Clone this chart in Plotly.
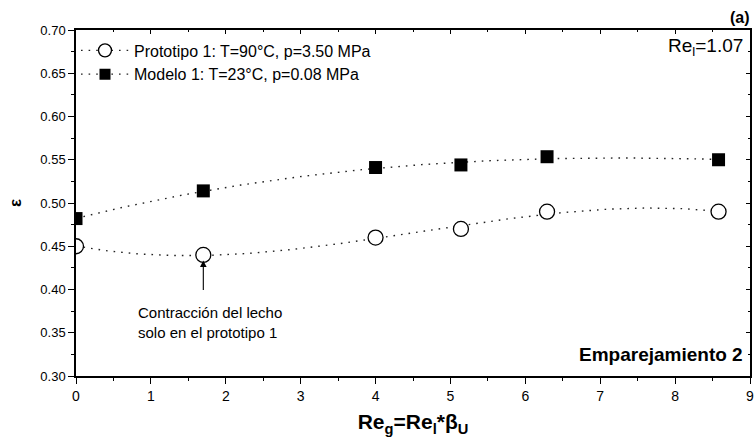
import numpy as np
import plotly.graph_objects as go

# Measured points
re_g = [0.0, 1.70, 4.00, 5.14, 6.29, 8.58]
eps_prototipo = [0.450, 0.440, 0.460, 0.470, 0.490, 0.490]
eps_modelo = [0.482, 0.514, 0.541, 0.544, 0.5535, 0.550]

name_prototipo = "Prototipo 1: T=90°C, p=3.50 MPa"
name_modelo = "Modelo 1: T=23°C, p=0.08 MPa"

x_ticks = [0, 1, 2, 3, 4, 5, 6, 7, 8, 9]
y_ticks = [0.30, 0.35, 0.40, 0.45, 0.50, 0.55, 0.60, 0.65, 0.70]

FONT = "Liberation Sans, Arial, sans-serif"
INK = "#000000"
DOT = "1.6px,6px"
DOT_LINE = dict(color="#222222", width=1.4, dash=DOT)

# Polynomial trend lines fitted to each series
xf = np.linspace(min(re_g), max(re_g), 200)
fit_p = np.polyval(np.polyfit(re_g, eps_prototipo, 3), xf)
fit_m = np.polyval(np.polyfit(re_g, eps_modelo, 3), xf)

circle_marker = dict(symbol="circle", size=15, color="white", line=dict(color=INK, width=1.3))
square_marker = dict(symbol="square", size=13, color=INK, line=dict(color=INK, width=0))

fig = go.Figure()

for fy in (fit_p, fit_m):
    fig.add_trace(go.Scatter(x=xf, y=fy, mode="lines", showlegend=False,
                             line=DOT_LINE, hoverinfo="skip"))

fig.add_trace(go.Scatter(x=re_g, y=eps_prototipo, mode="markers", name=name_prototipo,
                         marker=circle_marker, showlegend=False))
fig.add_trace(go.Scatter(x=re_g, y=eps_modelo, mode="markers", name=name_modelo,
                         marker=square_marker, showlegend=False))

# Legend entries: dotted line sample through the marker
fig.add_trace(go.Scatter(x=[None], y=[None], mode="lines+markers", name=name_prototipo,
                         marker=dict(circle_marker, size=13), line=DOT_LINE))
fig.add_trace(go.Scatter(x=[None], y=[None], mode="lines+markers", name=name_modelo,
                         marker=dict(square_marker, size=11), line=DOT_LINE))

# Mirror axes on top/right carrying inward ticks
fig.add_trace(go.Scatter(x=[None], y=[None], xaxis="x2", yaxis="y2",
                         showlegend=False, hoverinfo="skip"))

axis_common = dict(showline=True, linecolor=INK, linewidth=1.5, showgrid=False,
                   zeroline=False, tickcolor=INK, tickwidth=1.3)

fig.update_layout(
    width=756, height=442,
    margin=dict(l=76, r=2, t=30, b=66),
    paper_bgcolor="white", plot_bgcolor="white",
    font=dict(family=FONT, color=INK),
    xaxis=dict(range=[0, 9], tickvals=x_ticks, ticktext=[str(v) for v in x_ticks],
               ticks="outside", ticklen=6, ticklabeloverflow="allow",
               tickfont=dict(family=FONT, size=14, color=INK),
               minor=dict(dtick=0.5, ticks="outside", ticklen=3, tickcolor=INK, tickwidth=1.3),
               title=dict(text="<b>Re<sub>g</sub>=Re<sub>l</sub>*β<sub>U</sub></b>",
                          font=dict(family=FONT, size=21, color=INK), standoff=12),
               **axis_common),
    yaxis=dict(range=[0.30, 0.70], tickvals=y_ticks,
               ticktext=[f"{v:.2f}" for v in y_ticks],
               ticks="outside", ticklen=6,
               tickfont=dict(family=FONT, size=13, color=INK),
               minor=dict(dtick=0.025, ticks="outside", ticklen=3, tickcolor=INK, tickwidth=1.3),
               title=dict(text="<b>ε</b>", font=dict(family=FONT, size=17, color=INK),
                          standoff=14),
               **axis_common),
    xaxis2=dict(overlaying="x", side="top", range=[0, 9], tickvals=x_ticks,
                showticklabels=False, ticks="inside", ticklen=4,
                minor=dict(dtick=0.5, ticks="inside", ticklen=2, tickcolor=INK, tickwidth=1.3),
                anchor="y", **axis_common),
    yaxis2=dict(overlaying="y", side="right", range=[0.30, 0.70], tickvals=y_ticks,
                showticklabels=False, ticks="inside", ticklen=4,
                minor=dict(dtick=0.025, ticks="inside", ticklen=2, tickcolor=INK, tickwidth=1.3),
                anchor="x", **axis_common),
    legend=dict(x=0.0, y=0.99, xanchor="left", yanchor="top",
                bgcolor="rgba(0,0,0,0)", borderwidth=0,
                font=dict(family=FONT, size=16, color=INK),
                itemwidth=48, tracegroupgap=0),
    showlegend=True,
)

fig.add_annotation(xref="paper", yref="paper", x=1.0, y=1.0, xanchor="right", yanchor="bottom",
                   text="<b>(a)</b>", showarrow=False, yshift=2, xshift=2,
                   font=dict(family=FONT, size=16, color=INK))
fig.add_annotation(xref="paper", yref="paper", x=0.993, y=0.99, xanchor="right", yanchor="top",
                   text="Re<sub>l</sub>=1.07", showarrow=False,
                   font=dict(family=FONT, size=19, color=INK))
fig.add_annotation(xref="paper", yref="paper", x=0.993, y=0.025, xanchor="right", yanchor="bottom",
                   text="<b>Emparejamiento 2</b>", showarrow=False,
                   font=dict(family=FONT, size=19, color=INK))

# Arrow pointing at the contracted prototype bed point
fig.add_annotation(x=re_g[1], y=0.4335, xref="x", yref="y", text="",
                   showarrow=True, arrowhead=2, arrowsize=1.2, arrowwidth=1.1,
                   arrowcolor=INK, ax=0, ay=31)
fig.add_annotation(x=0.80, y=0.386, xref="x", yref="y", xanchor="left", yanchor="top",
                   text="Contracción del lecho<br>solo en el prototipo 1", showarrow=False,
                   align="left", font=dict(family=FONT, size=15, color=INK))

fig.write_html("out.html")
